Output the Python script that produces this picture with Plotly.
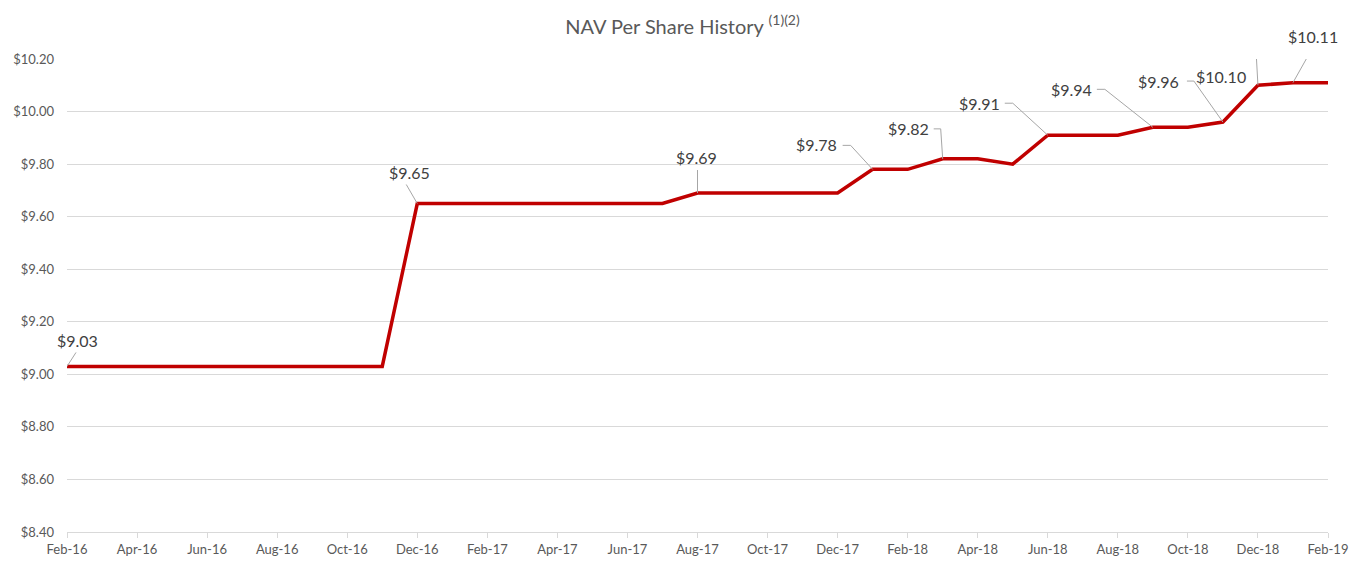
import plotly.graph_objects as go

months = ["Feb-16", "Mar-16", "Apr-16", "May-16", "Jun-16", "Jul-16", "Aug-16", "Sep-16",
          "Oct-16", "Nov-16", "Dec-16", "Jan-17", "Feb-17", "Mar-17", "Apr-17", "May-17",
          "Jun-17", "Jul-17", "Aug-17", "Sep-17", "Oct-17", "Nov-17", "Dec-17", "Jan-18",
          "Feb-18", "Mar-18", "Apr-18", "May-18", "Jun-18", "Jul-18", "Aug-18", "Sep-18",
          "Oct-18", "Nov-18", "Dec-18", "Jan-19", "Feb-19"]
nav = [9.03, 9.03, 9.03, 9.03, 9.03, 9.03, 9.03, 9.03,
       9.03, 9.03, 9.65, 9.65, 9.65, 9.65, 9.65, 9.65,
       9.65, 9.65, 9.69, 9.69, 9.69, 9.69, 9.69, 9.78,
       9.78, 9.82, 9.82, 9.80, 9.91, 9.91, 9.91, 9.94,
       9.94, 9.96, 10.10, 10.11, 10.11]
tick_months = months[::2]
y_ticks = [8.40, 8.60, 8.80, 9.00, 9.20, 9.40, 9.60, 9.80, 10.00, 10.20]
y_tick_text = ["$8.40", "$8.60", "$8.80", "$9.00", "$9.20", "$9.40", "$9.60", "$9.80", "$10.00", "$10.20"]
labeled_idx = [0, 10, 18, 23, 25, 28, 31, 33, 34, 35]

# label placement: (text dx, text dy, leader path points relative to data point, screen px, y up)
label_style = {
    0:  (10, 26, [(0, 0), (9, 14)]),
    10: (-8, 31, [(0, 0), (-11, 19)]),
    18: (-1, 36, [(0, 0), (0, 23)]),
    23: (-56, 25, [(0, 0), (-22, 24), (-30, 24)]),
    25: (-34, 30, [(0, 0), (-2, 30), (-9, 30)]),
    28: (-68, 32, [(0, 0), (-35, 32), (-43, 32)]),
    31: (-81, 38, [(0, 0), (-48, 38), (-56, 38)]),
    33: (-64, 41, [(0, 0), (-29, 41), (-36, 41)]),
    34: (-37, 9, [(0, 0), (-2, 36), (-9, 36)]),
    35: (20, 46, [(0, 0), (18, 32)]),
}

fig = go.Figure()
fig.add_trace(go.Scatter(
    x=months, y=nav, mode="lines",
    line=dict(color="#C00000", width=3.5),
    hoverinfo="x+y", showlegend=False,
))

for i in labeled_idx:
    dx, dy, pts = label_style[i]
    fig.add_annotation(
        x=i, y=nav[i], xref="x", yref="y",
        text="$%.2f" % nav[i], showarrow=False,
        xanchor="center", yanchor="middle",
        xshift=dx, yshift=dy,
        font=dict(family="Lato", size=16, color="#404040"),
    )
    path = "M" + " L".join("%g,%g" % (px, py) for px, py in pts)
    fig.add_shape(
        type="path", path=path, xref="x", yref="y",
        xsizemode="pixel", ysizemode="pixel", xanchor=i, yanchor=nav[i],
        line=dict(color="#a6a6a6", width=1),
    )

fig.update_layout(
    width=1365, height=569,
    margin=dict(l=67, r=37, t=59, b=37),
    paper_bgcolor="white", plot_bgcolor="white",
    title=dict(text="NAV Per Share History <sup>(1)(2)</sup>", x=0.5, xanchor="center",
               y=0.953, yanchor="middle",
               font=dict(family="Lato", size=20, color="#595959")),
    font=dict(family="Lato", color="#595959"),
)
fig.update_xaxes(
    type="category", range=[0, 36], tickmode="array", tickvals=tick_months, ticktext=tick_months,
    showgrid=False, showline=True, linecolor="#d9d9d9", linewidth=1,
    ticks="outside", ticklen=5, tickcolor="#d9d9d9",
    tickfont=dict(family="Lato", size=13, color="#595959"),
    zeroline=False,
)
fig.update_yaxes(
    range=[8.40, 10.20], tickmode="array", tickvals=y_ticks, ticktext=y_tick_text,
    showgrid=True, gridcolor="#d9d9d9", gridwidth=1, showline=False, zeroline=False,
    tickfont=dict(family="Lato", size=13, color="#595959"), ticks="", ticklabelstandoff=12,
)

fig.write_html("out.html")
